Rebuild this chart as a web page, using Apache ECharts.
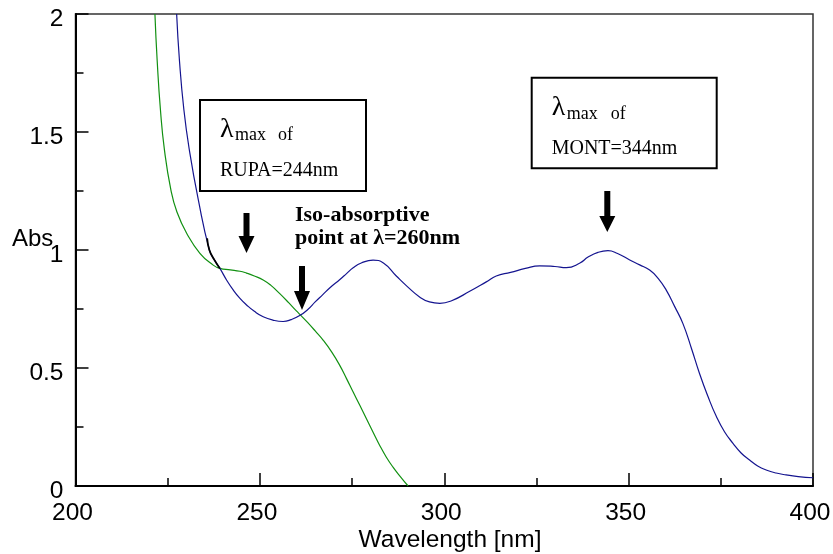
<!DOCTYPE html>
<html>
<head>
<meta charset="utf-8">
<script src="https://cdn.jsdelivr.net/npm/echarts@6/dist/echarts.min.js"></script>
<style>html,body{margin:0;padding:0;background:#fff}#c{width:833px;height:554px}</style>
</head>
<body>
<div id="c"></div>
<script>
// Wavelength ticks and absorbance ticks
const xTicks = [200, 250, 300, 350, 400];
const yTicks = [0, 0.5, 1, 1.5, 2];

// Blue spectrum (wavelength nm, Abs)
const blueWl  = [227.43,228.18,229.4,230.87,233.31,236.3,237.66,239.16,241.0,242.8,244.6,246.4,248.5,250.9,253.5,256.3,258.5,260.8,263.0,265.0,267.0,269.0,271.7,273.5,275.3,277.5,280.7,283.5,287.0,290.0,293.4,296.0,298.8,302.0,306.9,311.4,314.1,318.0,322.0,325.9,330.0,333.1,336.8,339.0,341.7,344.4,347.0,350.3,353.0,355.7,358.0,360.2,362.5,364.7,367.0,369.2,371.5,373.8,376.0,378.3,380.5,382.8,385.0,387.3,390.0,392.7,396.0,400.0];
const blueAbs = [2.0,1.805,1.593,1.424,1.212,1.0,0.958,0.922,0.872,0.83,0.795,0.767,0.74,0.717,0.703,0.697,0.705,0.722,0.748,0.78,0.81,0.84,0.875,0.90,0.925,0.945,0.957,0.945,0.89,0.845,0.80,0.78,0.774,0.785,0.825,0.865,0.89,0.905,0.922,0.933,0.93,0.925,0.945,0.97,0.99,0.997,0.985,0.958,0.937,0.915,0.88,0.83,0.76,0.689,0.585,0.478,0.38,0.294,0.23,0.181,0.14,0.11,0.085,0.068,0.055,0.047,0.04,0.035];

// Green spectrum
const greenWl  = [221.54,222.14,223.04,224.12,225.88,227.51,230.14,233.74,237.34,239.16,242.0,244.6,246.4,248.5,250.9,253.0,255.4,257.8,259.9,261.3,263.0,265.0,267.2,269.5,271.7,273.5,275.3,277.1,278.9,280.7,282.5,284.3,286.1,288.2,290.2];
const greenAbs = [2.0,1.805,1.593,1.424,1.254,1.161,1.071,0.986,0.936,0.922,0.916,0.91,0.902,0.89,0.873,0.85,0.815,0.777,0.742,0.72,0.692,0.657,0.617,0.567,0.51,0.455,0.398,0.342,0.285,0.228,0.172,0.122,0.08,0.038,0.0];

// Short dark overlap segment
const blackWl  = [235.7,236.3,237.66,239.16];
const blackAbs = [1.05,1.0,0.958,0.922];

const zip = (a, b) => a.map((v, i) => [v, b[i]]);

const chart = echarts.init(document.getElementById('c'), null, {renderer: 'canvas'});
const sans = 'Liberation Sans, Arial, sans-serif';
const serif = 'Liberation Serif, Times New Roman, serif';

function arrow(x, top, headStart, tip) {
  return {
    type: 'polygon',
    shape: {points: [[x-3, top],[x+3, top],[x+3, headStart],[x+8, headStart],[x, tip],[x-8, headStart],[x-3, headStart]]},
    style: {fill: '#000'}
  };
}
function txt(x, y, s, size, font, weight) {
  return {type: 'text', x: x, y: y, style: {text: s, fontSize: size, fontFamily: font, fontWeight: weight || 'normal', fill: '#000', align: 'left', verticalAlign: 'middle'}};
}

chart.setOption({
  animation: false,
  grid: {left: 75.5, right: 20, top: 14, bottom: 68, outerBoundsMode: 'none', containLabel: false, show: true, borderColor: '#333', borderWidth: 1.5, backgroundColor: 'transparent'},
  xAxis: {
    type: 'value', min: xTicks[0], max: xTicks[xTicks.length-1], interval: 50,
    axisLine: {show: true, onZero: false, lineStyle: {color: '#000', width: 2}},
    axisTick: {show: true, inside: true, length: 13, lineStyle: {color: '#000', width: 1.5}},
    minorTick: {show: true, splitNumber: 2, length: 8, lineStyle: {color: '#000', width: 1.5}},
    splitLine: {show: false},
    axisLabel: {color: '#000', fontSize: 24.5, fontFamily: sans, margin: 15, padding: [0, 6, 0, 0]}
  },
  yAxis: {
    type: 'value', min: yTicks[0], max: yTicks[yTicks.length-1], interval: 0.5,
    axisLine: {show: true, onZero: false, lineStyle: {color: '#000', width: 2}},
    axisTick: {show: true, inside: true, length: 13, lineStyle: {color: '#000', width: 1.5}},
    minorTick: {show: true, splitNumber: 2, length: 8, lineStyle: {color: '#000', width: 1.5}},
    splitLine: {show: false},
    axisLabel: {color: '#000', fontSize: 24.5, fontFamily: sans, margin: 12, verticalAlign: 'top', lineHeight: 10}
  },
  series: [
    {type: 'line', name: 'green', data: zip(greenWl, greenAbs), showSymbol: false, smooth: 0.5, clip: true, lineStyle: {color: '#119011', width: 1.2}},
    {type: 'line', name: 'blue', data: zip(blueWl, blueAbs), showSymbol: false, smooth: 0.5, clip: true, lineStyle: {color: '#14148f', width: 1.2}},
    {type: 'line', name: 'black', data: zip(blackWl, blackAbs), showSymbol: false, smooth: 0.5, clip: true, lineStyle: {color: '#000', width: 1.8}}
  ],
  graphic: [
    txt(12, 239.6, 'Abs', 24, sans),
    {type: 'text', x: 450, y: 540.3, style: {text: 'Wavelength [nm]', fontSize: 24.5, fontFamily: sans, fill: '#000', align: 'center', verticalAlign: 'middle'}},
    {type: 'rect', shape: {x: 200, y: 100, width: 166, height: 91}, style: {fill: '#fff', stroke: '#000', lineWidth: 2}},
    txt(220, 129.3, 'λ', 28, serif),
    txt(235, 135, 'max', 18, serif),
    txt(278, 135, 'of', 18, serif),
    txt(220, 170.8, 'RUPA=244nm', 20, serif),
    {type: 'rect', shape: {x: 531.7, y: 77.7, width: 185, height: 90.6}, style: {fill: '#fff', stroke: '#000', lineWidth: 2}},
    txt(551.7, 107.3, 'λ', 28, serif),
    txt(566.7, 114.5, 'max', 18, serif),
    txt(610.7, 114.5, 'of', 18, serif),
    txt(551.7, 148.8, 'MONT=344nm', 20, serif),
    txt(295, 214.9, 'Iso-absorptive', 22, serif, 'bold'),
    txt(295, 238.2, 'point at λ=260nm', 22, serif, 'bold'),
    arrow(246.5, 213, 236, 253),
    arrow(302, 266, 291, 310),
    arrow(607.3, 191, 216, 232)
  ]
});
</script>
</body>
</html>
